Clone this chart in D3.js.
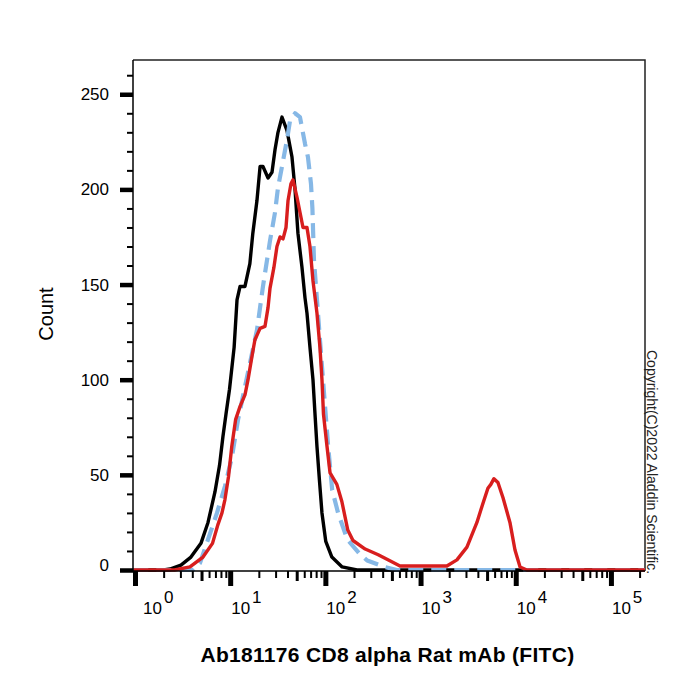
<!DOCTYPE html>
<html lang="en">
<head>
<meta charset="UTF-8" />
<title>Ab181176 CD8 alpha Rat mAb (FITC)</title>
<script src="https://d3js.org/d3.v7.min.js"></script>
<style>
  body { margin: 0; background: #fff; }
  text { font-family: "Liberation Sans", Arial, sans-serif; fill: #000; }
  .curve { fill: none; stroke-linejoin: round; }
</style>
</head>
<body>
<div id="chart"></div>
<script>
// histogram points: [FITC intensity, count]
var blank = [[0.96,0],[2.0,0],[2.33,0.5],[3.04,2.6],[3.87,6.8],[4.93,14],[5.85,25],[6.92,41],[7.73,55],[8.39,70],[9.04,82],[9.84,95],[11.0,117],[11.8,142],[12.7,149],[14.3,149],[16.1,161],[17.3,177],[19.1,194],[20.6,212],[22.1,212],[25.0,206],[27.5,209],[29.6,221],[31.8,230],[35.0,238],[39.5,231],[44.6,217],[48.0,200],[51.5,177],[56.8,159],[61.1,143],[64.1,135],[68.9,117],[74.1,100],[77.8,82],[81.6,65],[86.7,47],[92.1,30],[101,15],[117,6.8],[150,1.6],[215,0],[228000,0]];

var isotype = [[0.96,0],[4.07,0],[4.82,3.7],[5.85,16],[7.27,30],[8.81,44],[10.4,59],[12.1,79],[15.4,104],[19.1,126],[22.1,149],[26.2,173],[29.6,188],[31.8,201],[35.0,212],[39.5,226],[42.5,236],[48.0,240],[54.1,238],[61.1,224],[65.6,217],[70.6,203],[73.1,190],[75.9,163],[83.6,135],[94.4,100],[107,65],[118,42],[136,30],[170,16],[225,9],[275,5],[420,1.6],[565,0],[228000,0]];

var cd8 = [[0.96,0],[2.6,0],[3.78,1.6],[5.18,6.8],[6.52,14],[7.45,24],[8.20,30],[8.81,37],[9.60,49],[10.4,65],[11.4,79],[12.7,86],[14.3,92],[15.4,100],[16.9,112],[18.2,121],[20.6,127],[23.2,128],[25.0,138],[26.2,148],[28.8,159],[31.0,170],[33.4,175],[35.9,174],[38.6,180],[40.5,194],[43.5,203],[45.7,205],[50.3,196],[54.1,188],[58.2,180],[64.1,180],[68.9,170],[74.1,152],[81.6,135],[87.7,117],[92.1,100],[95.5,82],[104,65],[112,51],[132,45],[149,36],[172,21],[195,15.5],[262,11],[359,8],[493,4.5],[608,2.1],[1890,2.1],[2410,5.3],[3070,12],[3910,25],[4520,35],[5100,43],[5480,45],[5900,48],[6500,46],[7350,38],[8690,25],[9820,10.5],[11100,1.6],[13100,0],[228000,0]];

var yMajor = [0, 50, 100, 150, 200, 250];
var xMajor = [1, 10, 100, 1000, 10000, 100000];
var xExponents = ["0", "1", "2", "3", "4", "5"];

var xTitle = "Ab181176 CD8 alpha Rat mAb (FITC)";
var yTitle = "Count";
var copyright = "Copyright(C)2022 Aladdin Scientific.";

var W = 700, H = 700;
var plotL = 133, plotR = 645, plotT = 60, plotB = 570;

var svg = d3.select("#chart").append("svg")
  .attr("width", W).attr("height", H);

var x = d3.scaleLog().domain([0.953, 228000]).range([plotL, plotR]);
var y = d3.scaleLinear().domain([0, 268]).range([plotB, plotT]);

// frame
svg.append("path")
  .attr("d", "M" + plotL + "," + plotT + "H" + plotR + "V" + (plotB + 1))
  .attr("fill", "none").attr("stroke", "#222").attr("stroke-width", 1.5);

// curves
var line = d3.line().x(d => x(d[0])).y(d => y(d[1]));

svg.append("path").datum(blank).attr("class", "curve")
  .attr("stroke", "#000").attr("stroke-width", 3.4).attr("d", line);
svg.append("path").datum(isotype).attr("class", "curve")
  .attr("stroke", "#86b8e6").attr("stroke-width", 4.2)
  .attr("stroke-dasharray", "15,8").attr("d", line);
svg.append("path").datum(cd8).attr("class", "curve")
  .attr("stroke", "#d81e1e").attr("stroke-width", 3.4).attr("d", line);

// y axis
var yMinor = d3.range(10, 268, 10).filter(v => v % 50 !== 0);
var gyMinor = svg.append("g").attr("transform", "translate(" + plotL + ",0)")
  .call(d3.axisLeft(y).tickValues(yMinor).tickSize(6).tickFormat(""));
gyMinor.selectAll("line").attr("stroke-width", 2);
gyMinor.select(".domain").remove();

var gy = svg.append("g").attr("transform", "translate(" + plotL + ",0)")
  .call(d3.axisLeft(y).tickValues(yMajor).tickSize(13).tickPadding(11));
gy.select(".domain").remove();
gy.selectAll("line").attr("stroke-width", 4.5);
gy.selectAll("text").attr("font-size", 17).attr("font-family", null)
  .filter(d => d === 0).attr("dy", "0.05em");

// x axis
var xMid = xMajor.slice(0, 5).map(v => v * 5);
var xMinor = [];
xMajor.forEach(v => [2, 3, 4, 6, 7, 8, 9].forEach(m => {
  if (v * m < 228000) xMinor.push(v * m);
}));

var gxMinor = svg.append("g").attr("transform", "translate(0," + (plotB + 1) + ")")
  .call(d3.axisBottom(x).tickValues(xMinor).tickSize(7).tickFormat(""));
gxMinor.selectAll("line").attr("stroke-width", 2);
gxMinor.select(".domain").remove();

var gxMid = svg.append("g").attr("transform", "translate(0," + (plotB + 1) + ")")
  .call(d3.axisBottom(x).tickValues(xMid).tickSize(10).tickFormat(""));
gxMid.selectAll("line").attr("stroke-width", 3);
gxMid.select(".domain").remove();

var gx = svg.append("g").attr("transform", "translate(0," + (plotB + 1) + ")")
  .call(d3.axisBottom(x).tickValues(xMajor).tickSize(15).tickFormat(""));
gx.selectAll("line").attr("stroke-width", 5);
gx.select(".domain").remove();

var xl = svg.append("g").selectAll("text").data(xMajor).join("text")
  .attr("x", (d, i) => x(d) + (i === 0 ? 8 : 1))
  .attr("y", 614)
  .attr("font-size", 17);
xl.append("tspan").text("10");
xl.append("tspan").attr("dx", 2).attr("dy", -11).text((d, i) => xExponents[i]);

// axis lines
svg.append("line").attr("x1", plotL).attr("x2", plotL).attr("y1", plotT).attr("y2", plotB + 2)
  .attr("stroke", "#000").attr("stroke-width", 1.5);
svg.append("line").attr("x1", plotL).attr("x2", plotR).attr("y1", plotB + 1).attr("y2", plotB + 1)
  .attr("stroke", "#000").attr("stroke-width", 1.5);

// titles
svg.append("text")
  .attr("transform", "translate(53,314) rotate(-90)")
  .attr("text-anchor", "middle").attr("font-size", 20)
  .text(yTitle);

svg.append("text")
  .attr("x", 387.5).attr("y", 662)
  .attr("text-anchor", "middle").attr("font-size", 21).attr("font-weight", "bold")
  .attr("letter-spacing", 0.3)
  .text(xTitle);

svg.append("text")
  .attr("transform", "translate(647,350) rotate(90)")
  .attr("font-size", 14).style("fill", "#222")
  .text(copyright);
</script>
</body>
</html>
